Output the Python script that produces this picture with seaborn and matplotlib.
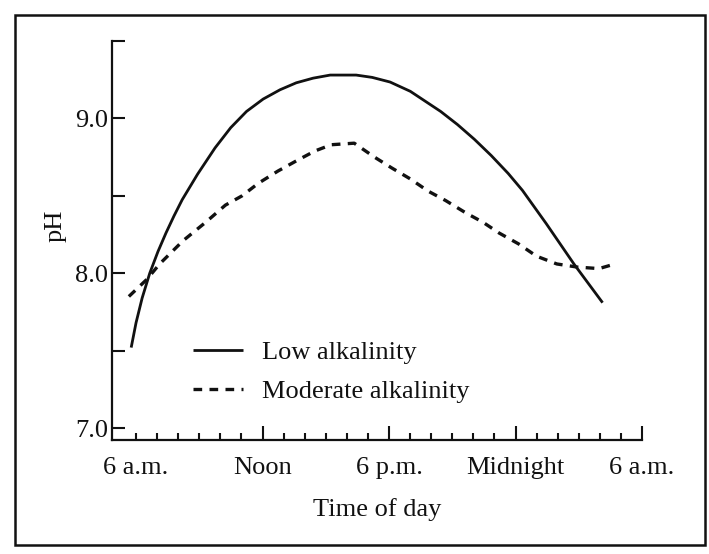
import matplotlib
matplotlib.use("Agg")
import matplotlib.pyplot as plt
from matplotlib.patches import Rectangle
from matplotlib.lines import Line2D
import seaborn as sns
import pandas as pd

# ---- data (hours after 6 a.m., pH) ----
time_low = [-0.23, 0.0, 0.29, 0.65, 1.04, 1.42, 1.80, 2.19, 2.92, 3.75, 4.49, 5.24,
            6.03, 6.83, 7.60, 8.40, 9.21, 10.44, 11.20, 12.05, 13.01, 14.45, 15.25,
            16.05, 16.85, 17.65, 18.33, 19.46, 20.77, 22.13]
ph_low = [7.52, 7.68, 7.84, 8.00, 8.14, 8.26, 8.37, 8.475, 8.64, 8.81, 8.94, 9.045,
          9.125, 9.185, 9.23, 9.26, 9.28, 9.28, 9.265, 9.235, 9.175, 9.045, 8.96,
          8.865, 8.76, 8.645, 8.535, 8.32, 8.06, 7.81]

time_mod = [-0.34, 0.51, 1.12, 2.23, 3.31, 4.24, 5.03, 5.79, 6.73, 7.66, 8.49, 9.26,
            10.35, 11.31, 12.13, 13.0, 13.86, 14.68, 15.64, 16.45, 17.22, 18.14, 19.0,
            19.96, 20.92, 21.96, 22.72]
ph_mod = [7.85, 7.96, 8.06, 8.21, 8.33, 8.44, 8.50, 8.58, 8.66, 8.73, 8.79, 8.83,
          8.84, 8.75, 8.68, 8.61, 8.53, 8.47, 8.39, 8.33, 8.26, 8.19, 8.11,
          8.06, 8.04, 8.03, 8.06]

series_names = ["Low alkalinity", "Moderate alkalinity"]
x_tick_pos = [0, 6, 12, 18, 24]
x_tick_labels = ["6 a.m.", "Noon", "6 p.m.", "Midnight", "6 a.m."]
y_tick_pos = [7.0, 8.0, 9.0]
y_tick_labels = ["7.0", "8.0", "9.0"]

sns.set_theme(style="white")
plt.rcParams["font.family"] = ["Liberation Serif", "DejaVu Serif"]
plt.rcParams["lines.solid_joinstyle"] = "round"
plt.rcParams["lines.solid_capstyle"] = "butt"
FS = 19

W, H = 709, 554
fig = plt.figure(figsize=(W / 100, H / 100), dpi=100)
fig.patch.set_facecolor("white")

# outer frame
fig.patches.append(Rectangle((15 / W, (H - 545) / H), 690 / W, 530 / H,
                             transform=fig.transFigure, fill=False,
                             lw=1.8, edgecolor="#111111"))

ax = fig.add_axes([112 / W, (H - 440) / H, 530 / W, 399 / H])
ax.set_facecolor("white")

df_low = pd.DataFrame({"time": time_low, "pH": ph_low})
df_mod = pd.DataFrame({"time": time_mod, "pH": ph_mod})

sns.lineplot(data=df_low, x="time", y="pH", ax=ax, color="#111111", lw=2.0,
             sort=False, estimator=None)
sns.lineplot(data=df_mod, x="time", y="pH", ax=ax, color="#111111", lw=2.4,
             linestyle=(0, (2.6, 2.2)), sort=False, estimator=None)

ax.set_xlim(-1.14, 24)
ax.set_ylim(6.923, 9.497)

for s in ["top", "right"]:
    ax.spines[s].set_visible(False)
for s in ["left", "bottom"]:
    ax.spines[s].set_linewidth(1.6)
    ax.spines[s].set_color("#111111")

ax.set_xticks(x_tick_pos)
ax.set_xticklabels(x_tick_labels, fontsize=FS, color="#111111")
ax.set_xticks(range(0, 25), minor=True)
ax.set_yticks(y_tick_pos)
ax.set_yticklabels(y_tick_labels, fontsize=FS, color="#111111")
ax.set_yticks([7.5, 8.5, 9.5], minor=True)

ax.tick_params(axis="x", which="major", direction="in", length=10, width=1.5,
               color="#111111", pad=12, bottom=True)
ax.tick_params(axis="x", which="minor", direction="in", length=5, width=1.5,
               color="#111111", bottom=True)
ax.tick_params(axis="y", which="both", direction="in", length=9, width=1.5,
               color="#111111", pad=3, left=True)
ax.xaxis.get_major_ticks()[0].tick1line.set_markersize(5)

ax.set_xlabel("Time of day", fontsize=FS, color="#111111", va="center")
ax.xaxis.set_label_coords(0.5, -70 / 399)
ax.set_ylabel("pH", fontsize=FS, color="#111111", va="center", ha="center")
ax.yaxis.set_label_coords((56 - 112) / 530, (440 - 226) / 399)

handles = [Line2D([], [], color="#111111", lw=2.0),
           Line2D([], [], color="#111111", lw=2.4, linestyle=(0, (2.6, 2.2)))]
leg = ax.legend(handles, series_names, loc="upper left",
                bbox_to_anchor=(193 / W, 1 - 341 / H), bbox_transform=fig.transFigure,
                frameon=False, fontsize=FS, handlelength=1.9, handletextpad=0.72,
                labelspacing=0.58, borderpad=0, borderaxespad=0)
for t in leg.get_texts():
    t.set_color("#111111")

fig.savefig("out.png", dpi=100, facecolor="white")
